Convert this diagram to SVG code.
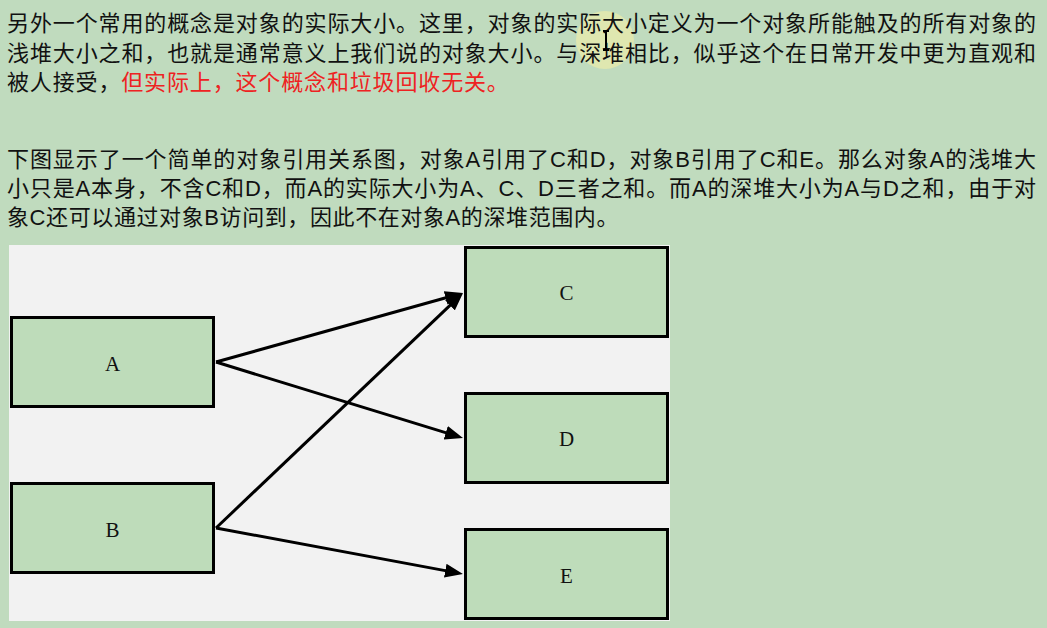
<svg xmlns="http://www.w3.org/2000/svg" width="1047" height="628" viewBox="0 0 1047 628">
<defs>
<style>
.t{font-family:"Liberation Sans","Noto Sans CJK SC",sans-serif;font-size:22px;fill:#111}
.red{fill:#ee2222}
.box{fill:#bedcba;stroke:#000;stroke-width:3}
.lbl{font-family:"Liberation Serif",serif;font-size:21px;fill:#111;text-anchor:middle}
.edge{stroke:#000;stroke-width:3;fill:none;marker-end:url(#ah)}
</style>
<marker id="ah" markerUnits="userSpaceOnUse" markerWidth="18" markerHeight="14" refX="4" refY="7" orient="auto">
<path d="M0,0 L18,7 L0,14 z" fill="#000"/>
</marker>
</defs>
<rect x="0" y="0" width="1047" height="628" fill="#c0dbbe"/>
<circle cx="605" cy="40" r="29" fill="#f4efa6" opacity="0.6"/>
<g id="text">
<text class="t" x="7" y="31" textLength="1029" lengthAdjust="spacing">另外一个常用的概念是对象的实际大小。这里，对象的实际大小定义为一个对象所能触及的所有对象的</text>
<text class="t" x="7" y="61" textLength="1029" lengthAdjust="spacing">浅堆大小之和，也就是通常意义上我们说的对象大小。与深堆相比，似乎这个在日常开发中更为直观和</text>
<text class="t" x="7" y="90" letter-spacing="0.85">被人接受，<tspan class="red">但实际上，这个概念和垃圾回收无关。</tspan></text>
<text class="t" x="7" y="167" textLength="1029" lengthAdjust="spacing">下图显示了一个简单的对象引用关系图，对象A引用了C和D，对象B引用了C和E。那么对象A的浅堆大</text>
<text class="t" x="7" y="196" textLength="1029" lengthAdjust="spacing">小只是A本身，不含C和D，而A的实际大小为A、C、D三者之和。而A的深堆大小为A与D之和，由于对</text>
<text class="t" x="7" y="225" letter-spacing="0.6">象C还可以通过对象B访问到，因此不在对象A的深堆范围内。</text>
</g>
<path d="M603,31 h6 M606,31 v19 M603,50 h6" stroke="#000" stroke-width="2" fill="none"/>
<rect x="9" y="245" width="661" height="376" fill="#f2f2f2"/>
<g id="connectors">
<line class="edge" x1="216" y1="362" x2="449.5" y2="296.8"/>
<line class="edge" x1="216" y1="362" x2="449.6" y2="433.9"/>
<line class="edge" x1="216" y1="528" x2="452.9" y2="302.6"/>
<line class="edge" x1="216" y1="528" x2="449.2" y2="571.4"/>
</g>
<g id="A"><rect class="box" x="11.5" y="317.5" width="202" height="89"/><text class="lbl" x="112.5" y="371">A</text></g>
<g id="B"><rect class="box" x="11.5" y="483.5" width="202" height="89"/><text class="lbl" x="112.5" y="537">B</text></g>
<g id="C"><rect class="box" x="465.5" y="247.5" width="202" height="89"/><text class="lbl" x="566.5" y="300">C</text></g>
<g id="D"><rect class="box" x="465.5" y="393.5" width="202" height="89"/><text class="lbl" x="566.5" y="446">D</text></g>
<g id="E"><rect class="box" x="465.5" y="529.5" width="202" height="89"/><text class="lbl" x="566.5" y="583">E</text></g>
</svg>
